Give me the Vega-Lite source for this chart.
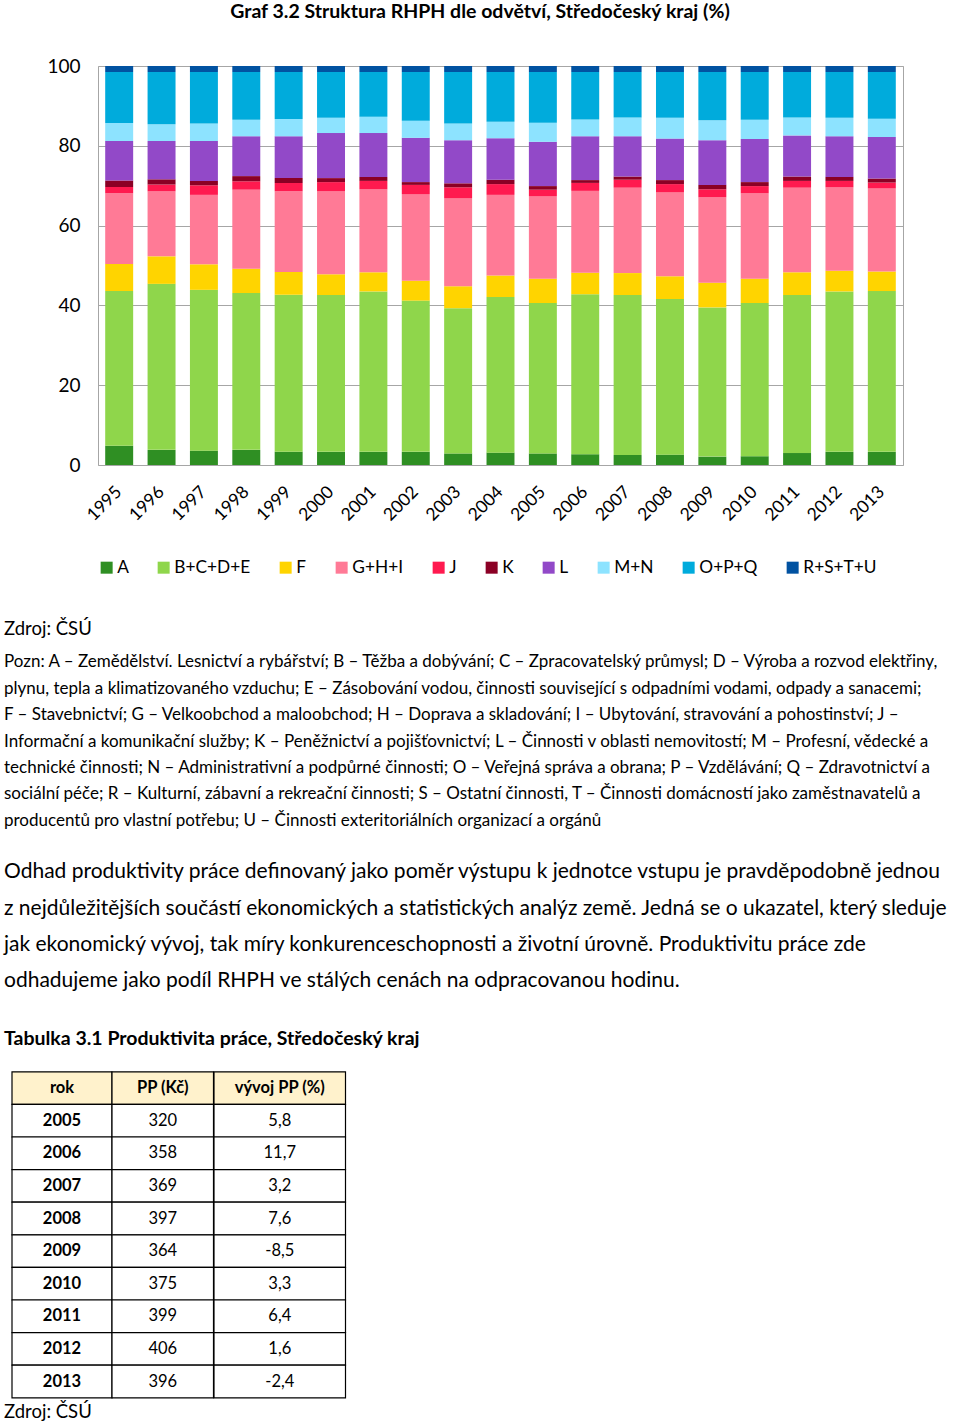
{
  "$schema": "https://vega.github.io/schema/vega-lite/v6.json",
  "background": "white",
  "padding": {"left": 4, "top": 1, "right": 0, "bottom": 0},
  "title": {"text": "Graf 3.2 Struktura RHPH dle odvětví, Středočeský kraj (%)", "font": "Lato", "fontSize": 19.5, "fontWeight": "bold", "color": "black", "anchor": "middle", "offset": 34.5},
  "config": {"view": {"stroke": null}, "font": "Lato"},
  "datasets": {
    "bars": [
      {"year":"1995","sector":"A","share":4.8},{"year":"1995","sector":"B+C+D+E","share":38.8},{"year":"1995","sector":"F","share":6.8},{"year":"1995","sector":"G+H+I","share":17.7},{"year":"1995","sector":"J","share":1.6},{"year":"1995","sector":"K","share":1.6},{"year":"1995","sector":"L","share":9.9},{"year":"1995","sector":"M+N","share":4.5},{"year":"1995","sector":"O+P+Q","share":12.8},{"year":"1995","sector":"R+S+T+U","share":1.5},
      {"year":"1996","sector":"A","share":3.8},{"year":"1996","sector":"B+C+D+E","share":41.6},{"year":"1996","sector":"F","share":6.9},{"year":"1996","sector":"G+H+I","share":16.3},{"year":"1996","sector":"J","share":1.7},{"year":"1996","sector":"K","share":1.3},{"year":"1996","sector":"L","share":9.6},{"year":"1996","sector":"M+N","share":4.2},{"year":"1996","sector":"O+P+Q","share":13.1},{"year":"1996","sector":"R+S+T+U","share":1.5},
      {"year":"1997","sector":"A","share":3.6},{"year":"1997","sector":"B+C+D+E","share":40.3},{"year":"1997","sector":"F","share":6.4},{"year":"1997","sector":"G+H+I","share":17.4},{"year":"1997","sector":"J","share":2.4},{"year":"1997","sector":"K","share":1.1},{"year":"1997","sector":"L","share":10.0},{"year":"1997","sector":"M+N","share":4.4},{"year":"1997","sector":"O+P+Q","share":12.9},{"year":"1997","sector":"R+S+T+U","share":1.5},
      {"year":"1998","sector":"A","share":3.8},{"year":"1998","sector":"B+C+D+E","share":39.3},{"year":"1998","sector":"F","share":6.1},{"year":"1998","sector":"G+H+I","share":19.8},{"year":"1998","sector":"J","share":2.1},{"year":"1998","sector":"K","share":1.3},{"year":"1998","sector":"L","share":10.0},{"year":"1998","sector":"M+N","share":4.1},{"year":"1998","sector":"O+P+Q","share":12.0},{"year":"1998","sector":"R+S+T+U","share":1.5},
      {"year":"1999","sector":"A","share":3.3},{"year":"1999","sector":"B+C+D+E","share":39.4},{"year":"1999","sector":"F","share":5.7},{"year":"1999","sector":"G+H+I","share":20.2},{"year":"1999","sector":"J","share":2.1},{"year":"1999","sector":"K","share":1.2},{"year":"1999","sector":"L","share":10.5},{"year":"1999","sector":"M+N","share":4.3},{"year":"1999","sector":"O+P+Q","share":11.8},{"year":"1999","sector":"R+S+T+U","share":1.5},
      {"year":"2000","sector":"A","share":3.3},{"year":"2000","sector":"B+C+D+E","share":39.3},{"year":"2000","sector":"F","share":5.2},{"year":"2000","sector":"G+H+I","share":20.8},{"year":"2000","sector":"J","share":2.3},{"year":"2000","sector":"K","share":1.0},{"year":"2000","sector":"L","share":11.3},{"year":"2000","sector":"M+N","share":3.8},{"year":"2000","sector":"O+P+Q","share":11.5},{"year":"2000","sector":"R+S+T+U","share":1.5},
      {"year":"2001","sector":"A","share":3.3},{"year":"2001","sector":"B+C+D+E","share":40.2},{"year":"2001","sector":"F","share":4.8},{"year":"2001","sector":"G+H+I","share":20.8},{"year":"2001","sector":"J","share":2.1},{"year":"2001","sector":"K","share":1.0},{"year":"2001","sector":"L","share":11.0},{"year":"2001","sector":"M+N","share":4.1},{"year":"2001","sector":"O+P+Q","share":11.2},{"year":"2001","sector":"R+S+T+U","share":1.5},
      {"year":"2002","sector":"A","share":3.3},{"year":"2002","sector":"B+C+D+E","share":37.9},{"year":"2002","sector":"F","share":5.0},{"year":"2002","sector":"G+H+I","share":21.7},{"year":"2002","sector":"J","share":2.3},{"year":"2002","sector":"K","share":0.7},{"year":"2002","sector":"L","share":11.1},{"year":"2002","sector":"M+N","share":4.3},{"year":"2002","sector":"O+P+Q","share":12.2},{"year":"2002","sector":"R+S+T+U","share":1.5},
      {"year":"2003","sector":"A","share":2.9},{"year":"2003","sector":"B+C+D+E","share":36.4},{"year":"2003","sector":"F","share":5.5},{"year":"2003","sector":"G+H+I","share":22.1},{"year":"2003","sector":"J","share":2.7},{"year":"2003","sector":"K","share":1.0},{"year":"2003","sector":"L","share":10.8},{"year":"2003","sector":"M+N","share":4.2},{"year":"2003","sector":"O+P+Q","share":12.9},{"year":"2003","sector":"R+S+T+U","share":1.5},
      {"year":"2004","sector":"A","share":3.1},{"year":"2004","sector":"B+C+D+E","share":39.0},{"year":"2004","sector":"F","share":5.4},{"year":"2004","sector":"G+H+I","share":20.2},{"year":"2004","sector":"J","share":2.7},{"year":"2004","sector":"K","share":1.1},{"year":"2004","sector":"L","share":10.4},{"year":"2004","sector":"M+N","share":4.1},{"year":"2004","sector":"O+P+Q","share":12.5},{"year":"2004","sector":"R+S+T+U","share":1.5},
      {"year":"2005","sector":"A","share":2.9},{"year":"2005","sector":"B+C+D+E","share":37.7},{"year":"2005","sector":"F","share":6.1},{"year":"2005","sector":"G+H+I","share":20.7},{"year":"2005","sector":"J","share":1.6},{"year":"2005","sector":"K","share":0.9},{"year":"2005","sector":"L","share":11.1},{"year":"2005","sector":"M+N","share":4.8},{"year":"2005","sector":"O+P+Q","share":12.7},{"year":"2005","sector":"R+S+T+U","share":1.5},
      {"year":"2006","sector":"A","share":2.7},{"year":"2006","sector":"B+C+D+E","share":40.1},{"year":"2006","sector":"F","share":5.4},{"year":"2006","sector":"G+H+I","share":20.5},{"year":"2006","sector":"J","share":2.0},{"year":"2006","sector":"K","share":0.7},{"year":"2006","sector":"L","share":11.0},{"year":"2006","sector":"M+N","share":4.2},{"year":"2006","sector":"O+P+Q","share":11.9},{"year":"2006","sector":"R+S+T+U","share":1.5},
      {"year":"2007","sector":"A","share":2.5},{"year":"2007","sector":"B+C+D+E","share":40.1},{"year":"2007","sector":"F","share":5.5},{"year":"2007","sector":"G+H+I","share":21.4},{"year":"2007","sector":"J","share":2.0},{"year":"2007","sector":"K","share":0.8},{"year":"2007","sector":"L","share":10.1},{"year":"2007","sector":"M+N","share":4.7},{"year":"2007","sector":"O+P+Q","share":11.4},{"year":"2007","sector":"R+S+T+U","share":1.5},
      {"year":"2008","sector":"A","share":2.6},{"year":"2008","sector":"B+C+D+E","share":39.0},{"year":"2008","sector":"F","share":5.7},{"year":"2008","sector":"G+H+I","share":21.1},{"year":"2008","sector":"J","share":2.0},{"year":"2008","sector":"K","share":1.0},{"year":"2008","sector":"L","share":10.4},{"year":"2008","sector":"M+N","share":5.2},{"year":"2008","sector":"O+P+Q","share":11.5},{"year":"2008","sector":"R+S+T+U","share":1.5},
      {"year":"2009","sector":"A","share":2.1},{"year":"2009","sector":"B+C+D+E","share":37.4},{"year":"2009","sector":"F","share":6.2},{"year":"2009","sector":"G+H+I","share":21.4},{"year":"2009","sector":"J","share":2.0},{"year":"2009","sector":"K","share":1.1},{"year":"2009","sector":"L","share":11.2},{"year":"2009","sector":"M+N","share":5.0},{"year":"2009","sector":"O+P+Q","share":12.1},{"year":"2009","sector":"R+S+T+U","share":1.5},
      {"year":"2010","sector":"A","share":2.2},{"year":"2010","sector":"B+C+D+E","share":38.4},{"year":"2010","sector":"F","share":6.1},{"year":"2010","sector":"G+H+I","share":21.4},{"year":"2010","sector":"J","share":1.8},{"year":"2010","sector":"K","share":1.0},{"year":"2010","sector":"L","share":10.8},{"year":"2010","sector":"M+N","share":4.8},{"year":"2010","sector":"O+P+Q","share":12.0},{"year":"2010","sector":"R+S+T+U","share":1.5},
      {"year":"2011","sector":"A","share":3.0},{"year":"2011","sector":"B+C+D+E","share":39.6},{"year":"2011","sector":"F","share":5.7},{"year":"2011","sector":"G+H+I","share":21.2},{"year":"2011","sector":"J","share":1.7},{"year":"2011","sector":"K","share":1.1},{"year":"2011","sector":"L","share":10.3},{"year":"2011","sector":"M+N","share":4.5},{"year":"2011","sector":"O+P+Q","share":11.4},{"year":"2011","sector":"R+S+T+U","share":1.5},
      {"year":"2012","sector":"A","share":3.3},{"year":"2012","sector":"B+C+D+E","share":40.2},{"year":"2012","sector":"F","share":5.2},{"year":"2012","sector":"G+H+I","share":20.9},{"year":"2012","sector":"J","share":1.6},{"year":"2012","sector":"K","share":1.0},{"year":"2012","sector":"L","share":10.2},{"year":"2012","sector":"M+N","share":4.6},{"year":"2012","sector":"O+P+Q","share":11.5},{"year":"2012","sector":"R+S+T+U","share":1.5},
      {"year":"2013","sector":"A","share":3.3},{"year":"2013","sector":"B+C+D+E","share":40.3},{"year":"2013","sector":"F","share":4.9},{"year":"2013","sector":"G+H+I","share":20.8},{"year":"2013","sector":"J","share":1.5},{"year":"2013","sector":"K","share":1.0},{"year":"2013","sector":"L","share":10.4},{"year":"2013","sector":"M+N","share":4.6},{"year":"2013","sector":"O+P+Q","share":11.7},{"year":"2013","sector":"R+S+T+U","share":1.5}
    ],
    "table": [
      {"rok":"rok","pp":"PP (Kč)","vyvoj":"vývoj PP (%)"},
      {"rok":"2005","pp":"320","vyvoj":"5,8"},
      {"rok":"2006","pp":"358","vyvoj":"11,7"},
      {"rok":"2007","pp":"369","vyvoj":"3,2"},
      {"rok":"2008","pp":"397","vyvoj":"7,6"},
      {"rok":"2009","pp":"364","vyvoj":"-8,5"},
      {"rok":"2010","pp":"375","vyvoj":"3,3"},
      {"rok":"2011","pp":"399","vyvoj":"6,4"},
      {"rok":"2012","pp":"406","vyvoj":"1,6"},
      {"rok":"2013","pp":"396","vyvoj":"-2,4"}
    ]
  },
  "spacing": 0,
  "resolve": {"scale": {"color": "independent"}},
  "vconcat": [
    {
      "bounds": "flush",
      "spacing": 0,
      "resolve": {"scale": {"color": "independent"}},
      "hconcat": [
        {"width": 94, "height": 399, "data": {"values": []}, "mark": "point"},
        {
          "width": 805,
          "height": 399,
          "view": {"stroke": "#a6a6a6", "strokeWidth": 1},
          "data": {"name": "bars"},
          "mark": {"type": "bar"},
          "encoding": {
            "x": {"field": "year", "type": "ordinal", "scale": {"paddingInner": 0.34, "paddingOuter": 0.17},
                  "axis": {"title": null, "labelAngle": -45, "labelAlign": "right", "labelBaseline": "middle", "labelFontSize": 17.5, "labelFont": "Lato", "labelColor": "black", "ticks": false, "domain": false, "labelPadding": 24}},
            "y": {"field": "share", "type": "quantitative", "stack": "zero", "scale": {"domain": [0, 100], "nice": false},
                  "axis": {"title": null, "values": [0, 20, 40, 60, 80, 100], "grid": true, "gridColor": "#a6a6a6", "gridWidth": 1, "ticks": false, "domain": false, "labelFontSize": 19, "labelFont": "Lato", "labelColor": "black", "labelPadding": 18}},
            "order": {"field": "sector", "sort": "ascending"},
            "color": {"field": "sector", "type": "nominal",
                      "scale": {"domain": ["A", "B+C+D+E", "F", "G+H+I", "J", "K", "L", "M+N", "O+P+Q", "R+S+T+U"],
                                "range": ["#2f8f23", "#8fd64b", "#ffd400", "#ff7a96", "#ff1a4f", "#8b0025", "#9249c8", "#8de3ff", "#00abdc", "#0152a1"]},
                      "legend": {"orient": "bottom", "direction": "horizontal", "title": null, "symbolType": "square", "symbolSize": 144, "symbolStrokeWidth": 0, "labelFontSize": 17.3, "labelFont": "Lato", "labelColor": "black", "columnPadding": 26, "labelOffset": 2, "offset": 35}}
          }
        }
      ]
    },
    {
      "width": 952,
      "height": 69,
      "data": {"values": [{"line": 0, "text": "Zdroj: ČSÚ"}]},
      "mark": {"type": "text", "align": "left", "baseline": "middle", "font": "Lato", "fontSize": 18.5, "color": "black"},
      "encoding": {
        "y": {"field": "line", "type": "ordinal", "axis": null, "scale": {"type": "point", "padding": 0.5, "align": 0.754}},
        "x": {"datum": 0, "type": "quantitative", "scale": {"domain": [0, 1]}, "axis": null},
        "text": {"field": "text"}
      }
    },
    {
      "width": 952,
      "height": 191,
      "data": {"values": [
        {"line": 1, "text": "Pozn: A – Zemědělství. Lesnictví a rybářství; B – Těžba a dobývání; C – Zpracovatelský průmysl; D – Výroba a rozvod elektřiny,"},
        {"line": 2, "text": "plynu, tepla a klimatizovaného vzduchu; E – Zásobování vodou, činnosti související s odpadními vodami, odpady a sanacemi;"},
        {"line": 3, "text": "F – Stavebnictví; G – Velkoobchod a maloobchod; H – Doprava a skladování; I – Ubytování, stravování a pohostinství; J –"},
        {"line": 4, "text": "Informační a komunikační služby; K – Peněžnictví a pojišťovnictví; L – Činnosti v oblasti nemovitostí; M – Profesní, vědecké a"},
        {"line": 5, "text": "technické činnosti; N – Administrativní a podpůrné činnosti; O – Veřejná správa a obrana; P – Vzdělávání; Q – Zdravotnictví a"},
        {"line": 6, "text": "sociální péče; R – Kulturní, zábavní a rekreační činnosti; S – Ostatní činnosti, T – Činnosti domácností jako zaměstnavatelů a"},
        {"line": 7, "text": "producentů pro vlastní potřebu; U – Činnosti exteritoriálních organizací a orgánů"}
      ]},
      "mark": {"type": "text", "align": "left", "baseline": "middle", "font": "Lato", "fontSize": 17, "color": "black"},
      "encoding": {
        "y": {"field": "line", "type": "ordinal", "axis": null, "scale": {"type": "point", "padding": 0.604, "align": 0.5}},
        "x": {"datum": 0, "type": "quantitative", "scale": {"domain": [0, 1]}, "axis": null},
        "text": {"field": "text"}
      }
    },
    {
      "width": 952,
      "height": 179.5,
      "data": {"values": [
        {"line": 1, "text": "Odhad produktivity práce definovaný jako poměr výstupu k jednotce vstupu je pravděpodobně jednou"},
        {"line": 2, "text": "z nejdůležitějších součástí ekonomických a statistických analýz země. Jedná se o ukazatel, který sleduje"},
        {"line": 3, "text": "jak ekonomický vývoj, tak míry konkurenceschopnosti a životní úrovně. Produktivitu práce zde"},
        {"line": 4, "text": "odhadujeme jako podíl RHPH ve stálých cenách na odpracovanou hodinu."}
      ]},
      "mark": {"type": "text", "align": "left", "baseline": "middle", "font": "Lato", "fontSize": 21, "color": "black"},
      "encoding": {
        "y": {"field": "line", "type": "ordinal", "axis": null, "scale": {"type": "point", "padding": 0.959, "align": 0.5}},
        "x": {"datum": 0, "type": "quantitative", "scale": {"domain": [0, 1]}, "axis": null},
        "text": {"field": "text"}
      }
    },
    {
      "width": 952,
      "height": 43,
      "data": {"values": [{"line": 0, "text": "Tabulka 3.1 Produktivita práce, Středočeský kraj"}]},
      "mark": {"type": "text", "align": "left", "baseline": "middle", "font": "Lato", "fontSize": 19.5, "fontWeight": "bold", "color": "black"},
      "encoding": {
        "y": {"field": "line", "type": "ordinal", "axis": null, "scale": {"type": "point", "padding": 0.5, "align": 0.5}},
        "x": {"datum": 0, "type": "quantitative", "scale": {"domain": [0, 1]}, "axis": null},
        "text": {"field": "text"}
      }
    },
    {
      "bounds": "flush",
      "spacing": 0,
      "hconcat": [
        {"width": 8, "height": 337.8, "data": {"values": []}, "mark": "point"},
        {
          "width": 100, "height": 337.8,
          "data": {"name": "table"},
          "encoding": {"y": {"field": "rok", "type": "ordinal", "axis": null, "scale": {"type": "band", "domain": ["rok","2005","2006","2007","2008","2009","2010","2011","2012","2013"], "paddingInner": 0, "paddingOuter": 0.181, "align": 1}}},
          "layer": [
            {"mark": {"type": "rect", "stroke": "black", "strokeWidth": 1.2}, "encoding": {"fill": {"condition": {"test": "datum.rok === 'rok'", "value": "#fff2cc"}, "value": "white"}}},
            {"mark": {"type": "text", "font": "Lato", "fontSize": 16.5, "fontWeight": "bold", "color": "black"}, "encoding": {"text": {"field": "rok"}}}
          ]
        },
        {
          "width": 101.5, "height": 337.8,
          "data": {"name": "table"},
          "encoding": {"y": {"field": "rok", "type": "ordinal", "axis": null, "scale": {"type": "band", "domain": ["rok","2005","2006","2007","2008","2009","2010","2011","2012","2013"], "paddingInner": 0, "paddingOuter": 0.181, "align": 1}}},
          "layer": [
            {"mark": {"type": "rect", "stroke": "black", "strokeWidth": 1.2}, "encoding": {"fill": {"condition": {"test": "datum.rok === 'rok'", "value": "#fff2cc"}, "value": "white"}}},
            {"transform": [{"filter": "datum.rok === 'rok'"}], "mark": {"type": "text", "font": "Lato", "fontSize": 16.5, "fontWeight": "bold", "color": "black"}, "encoding": {"text": {"field": "pp"}}},
            {"transform": [{"filter": "datum.rok !== 'rok'"}], "mark": {"type": "text", "font": "Lato", "fontSize": 16.5, "color": "black"}, "encoding": {"text": {"field": "pp"}}}
          ]
        },
        {
          "width": 131.5, "height": 337.8,
          "data": {"name": "table"},
          "encoding": {"y": {"field": "rok", "type": "ordinal", "axis": null, "scale": {"type": "band", "domain": ["rok","2005","2006","2007","2008","2009","2010","2011","2012","2013"], "paddingInner": 0, "paddingOuter": 0.181, "align": 1}}},
          "layer": [
            {"mark": {"type": "rect", "stroke": "black", "strokeWidth": 1.2}, "encoding": {"fill": {"condition": {"test": "datum.rok === 'rok'", "value": "#fff2cc"}, "value": "white"}}},
            {"transform": [{"filter": "datum.rok === 'rok'"}], "mark": {"type": "text", "font": "Lato", "fontSize": 16.5, "fontWeight": "bold", "color": "black"}, "encoding": {"text": {"field": "vyvoj"}}},
            {"transform": [{"filter": "datum.rok !== 'rok'"}], "mark": {"type": "text", "font": "Lato", "fontSize": 16.5, "color": "black"}, "encoding": {"text": {"field": "vyvoj"}}}
          ]
        }
      ]
    },
    {
      "width": 952,
      "height": 26,
      "data": {"values": [{"line": 0, "text": "Zdroj: ČSÚ"}]},
      "mark": {"type": "text", "align": "left", "baseline": "middle", "font": "Lato", "fontSize": 18.5, "color": "black"},
      "encoding": {
        "y": {"field": "line", "type": "ordinal", "axis": null, "scale": {"type": "point", "padding": 0.5, "align": 0.5}},
        "x": {"datum": 0, "type": "quantitative", "scale": {"domain": [0, 1]}, "axis": null},
        "text": {"field": "text"}
      }
    }
  ]
}
